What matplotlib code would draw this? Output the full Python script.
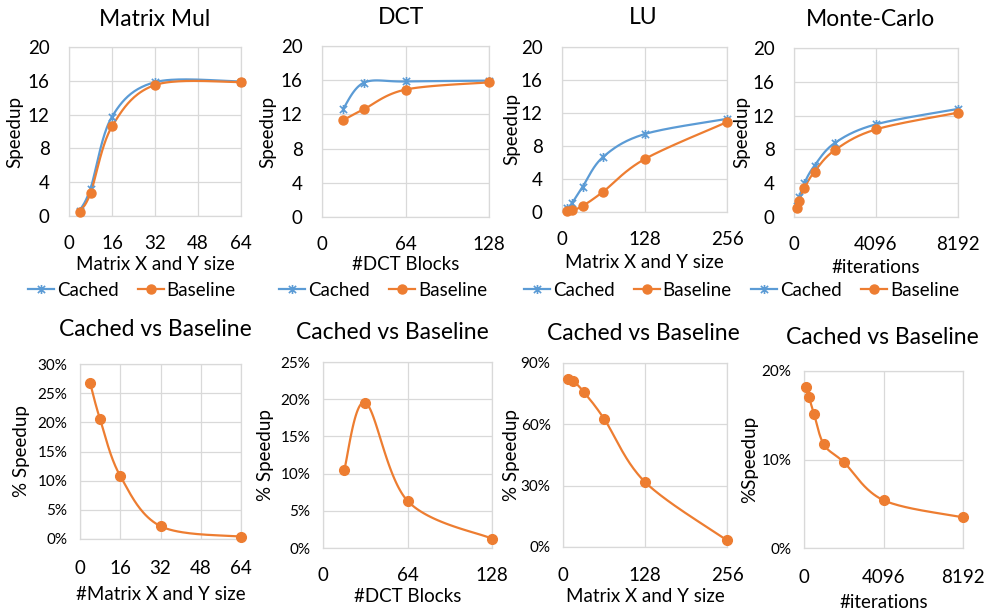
import numpy as np
import matplotlib
matplotlib.use("Agg")
import matplotlib.pyplot as plt
from matplotlib.lines import Line2D
from matplotlib.path import Path
from matplotlib.ticker import FuncFormatter

plt.rcParams['font.family'] = ['Lato', 'DejaVu Sans']

# ---------------- data ----------------
mm_x = [4, 8, 16, 32, 64]
mm_cached = [0.63, 3.25, 11.75, 15.84, 15.91]
mm_base = [0.50, 2.70, 10.60, 15.50, 15.85]
mm_pct = [26.8, 20.5, 10.8, 2.2, 0.4]

dct_x = [16, 32, 64, 128]
dct_cached = [12.6, 15.7, 15.85, 15.95]
dct_base = [11.3, 12.6, 14.9, 15.75]
dct_pct = [10.45, 19.55, 6.34, 1.25]

lu_x = [8, 16, 32, 64, 128, 256]
lu_cached = [0.44, 1.13, 3.06, 6.69, 9.44, 11.29]
lu_base = [0.08, 0.21, 0.73, 2.47, 6.40, 10.90]
lu_pct = [82.3, 81.2, 76.0, 62.8, 31.8, 3.3]

mc_x = [128, 256, 512, 1024, 2048, 4096, 8192]
mc_cached = [1.31, 2.35, 4.0, 6.08, 8.78, 10.97, 12.79]
mc_base = [1.07, 1.93, 3.39, 5.37, 7.93, 10.37, 12.35]
mc_pct = [18.19, 17.06, 15.17, 11.70, 9.70, 5.40, 3.47]

BLUE = '#5B9BD5'
ORANGE = '#ED7D31'
GRID = '#D9D9D9'

W, H = 986, 613
fig = plt.figure(figsize=(W / 100, H / 100), dpi=100)


def fx(px):
    return px / W


def fy(py):
    return 1 - py / H


def smooth(x, y, n=40):
    """Bezier smoothing through the points (spreadsheet-style smoothed line)."""
    pts = np.column_stack([np.asarray(x, float), np.asarray(y, float)])
    P = np.vstack([pts[0], pts, pts[-1]])
    t = np.linspace(0, 1, n)[:, None]
    out = []
    for i in range(1, len(P) - 2):
        p0, p1, p2, p3 = P[i - 1], P[i], P[i + 1], P[i + 2]
        c1 = p1 + (p2 - p0) / 6
        c2 = p2 - (p3 - p1) / 6
        b = ((1 - t) ** 3) * p1 + 3 * ((1 - t) ** 2) * t * c1 \
            + 3 * (1 - t) * (t ** 2) * c2 + (t ** 3) * p2
        out.append(b)
    seg = np.vstack(out)
    return seg[:, 0], seg[:, 1]


star = Path([(0, -1), (0, 1), (-0.8, -0.8), (0.8, 0.8), (-0.8, 0.8), (0.8, -0.8)],
            [Path.MOVETO, Path.LINETO, Path.MOVETO, Path.LINETO, Path.MOVETO, Path.LINETO])


def make_axes(l, r, t, b):
    ax = fig.add_axes([fx(l), fy(b), fx(r - l), (b - t) / H])
    for s in ax.spines.values():
        s.set_color(GRID)
        s.set_linewidth(0.9)
    ax.grid(True, color=GRID, linewidth=0.9)
    ax.set_axisbelow(True)
    ax.tick_params(length=0)
    return ax


def series(ax, x, y, color, marker, ms, mew=1.2):
    sx, sy = smooth(x, y)
    ax.plot(sx, sy, color=color, lw=1.6, solid_capstyle='round', clip_on=False, zorder=3)
    if marker == 'star':
        ax.plot(x, y, ls='none', marker=star, ms=ms, mec=color, mfc='none', mew=mew,
                clip_on=False, zorder=4)
    else:
        ax.plot(x, y, ls='none', marker='o', ms=ms, color=color, clip_on=False, zorder=4)


TICK_FS = 13.5
LABEL_FS = 13.5
TITLE_FS = 16.5
LEG_FS = 13.5

# ---------------- top row: speedup ----------------
top = [
    dict(title='Matrix Mul', box=(69, 241, 47, 216), x=mm_x, c=mm_cached, b=mm_base,
         xlim=64, xt=[0, 16, 32, 48, 64], xlabel='Matrix X and Y size',
         ylx=15, tx=155, ty=20, xly=265, leg=132, xtpad=19),
    dict(title='DCT', box=(322, 489, 46, 217), x=dct_x, c=dct_cached, b=dct_base,
         xlim=128, xt=[0, 64, 128], xlabel='#DCT Blocks',
         ylx=268, tx=401, ty=18, xly=265, leg=383, xtpad=19),
    dict(title='LU', box=(562, 727, 47, 212), x=lu_x, c=lu_cached, b=lu_base,
         xlim=256, xt=[0, 128, 256], xlabel='Matrix X and Y size',
         ylx=512, tx=643, ty=18, xly=262, leg=628, xtpad=19),
    dict(title='Monte-Carlo', box=(794, 958, 48, 217), x=mc_x, c=mc_cached, b=mc_base,
         xlim=8192, xt=[0, 4096, 8192], xlabel='#iterations',
         ylx=742, tx=870, ty=20, xly=268, leg=855, xtpad=19),
]

for p in top:
    l, r, t, b = p['box']
    ax = make_axes(l, r, t, b)
    series(ax, p['x'], p['c'], BLUE, 'star', 6.5)
    series(ax, p['x'], p['b'], ORANGE, 'o', 6.5)
    ax.set_xlim(0, p['xlim'])
    ax.set_ylim(0, 20)
    ax.set_xticks(p['xt'])
    ax.set_yticks([0, 4, 8, 12, 16, 20])
    ax.tick_params(axis='both', labelsize=TICK_FS)
    ax.tick_params(axis='x', pad=p['xtpad'] * 0.72)
    ax.tick_params(axis='y', pad=14)
    fig.text(fx(p['tx']), fy(p['ty']), p['title'], ha='center', va='center', fontsize=TITLE_FS)
    fig.text(fx((l + r) / 2), fy(p['xly']), p['xlabel'], ha='center', va='center', fontsize=LABEL_FS)
    fig.text(fx(p['ylx']), fy((t + b) / 2), 'Speedup', ha='center', va='center',
             rotation=90, fontsize=LABEL_FS)
    handles = [
        Line2D([], [], color=BLUE, lw=1.6, marker=star, ms=6.5, mec=BLUE, mfc='none', mew=1.2),
        Line2D([], [], color=ORANGE, lw=1.6, marker='o', ms=6.5),
    ]
    fig.legend(handles, ['Cached', 'Baseline'], loc='center',
               bbox_to_anchor=(fx(p['leg']), fy(290)), ncol=2, frameon=False,
               fontsize=LEG_FS, handlelength=1.4, handletextpad=0.15,
               columnspacing=1.0, borderpad=0, borderaxespad=0)

# ---------------- bottom row: relative speedup ----------------
bottom = [
    dict(box=(80, 241, 364, 539), x=mm_x, y=mm_pct, xlim=64, xt=[0, 16, 32, 48, 64],
         ymax=30, yt=[0, 5, 10, 15, 20, 25, 30], xlabel='#Matrix X and Y size',
         ylabel='% Speedup', ylx=22, tx=155, ty=330, xly=595, xtpad=21),
    dict(box=(323, 492, 362, 548), x=dct_x, y=dct_pct, xlim=128, xt=[0, 64, 128],
         ymax=25, yt=[0, 5, 10, 15, 20, 25], xlabel='#DCT Blocks',
         ylabel='% Speedup', ylx=265, tx=392, ty=332, xly=597, xtpad=19),
    dict(box=(563, 727, 363, 547), x=lu_x, y=lu_pct, xlim=256, xt=[0, 128, 256],
         ymax=90, yt=[0, 30, 60, 90], xlabel='Matrix X and Y size',
         ylabel='% Speedup', ylx=512, tx=643, ty=333, xly=597, xtpad=20),
    dict(box=(804, 963, 371, 548), x=mc_x, y=mc_pct, xlim=8192, xt=[0, 4096, 8192],
         ymax=20, yt=[0, 10, 20], xlabel='#iterations',
         ylabel='%Speedup', ylx=750, tx=882, ty=337, xly=602, xtpad=21),
]

pct_fmt = FuncFormatter(lambda v, _: f'{v:.0f}%')

for p in bottom:
    l, r, t, b = p['box']
    ax = make_axes(l, r, t, b)
    series(ax, p['x'], p['y'], ORANGE, 'o', 7)
    ax.set_xlim(0, p['xlim'])
    ax.set_ylim(0, p['ymax'])
    ax.set_xticks(p['xt'])
    ax.set_yticks(p['yt'])
    ax.yaxis.set_major_formatter(pct_fmt)
    ax.tick_params(axis='x', labelsize=TICK_FS, pad=p['xtpad'] * 0.72)
    ax.tick_params(axis='y', labelsize=11, pad=9)
    fig.text(fx(p['tx']), fy(p['ty']), 'Cached vs Baseline', ha='center', va='center',
             fontsize=TITLE_FS)
    fig.text(fx((l + r) / 2), fy(p['xly']), p['xlabel'], ha='center', va='center',
             fontsize=LABEL_FS)
    fig.text(fx(p['ylx']), fy((t + b) / 2), p['ylabel'], ha='center', va='center',
             rotation=90, fontsize=LABEL_FS)

fig.savefig('out.png', dpi=100, facecolor='white')
